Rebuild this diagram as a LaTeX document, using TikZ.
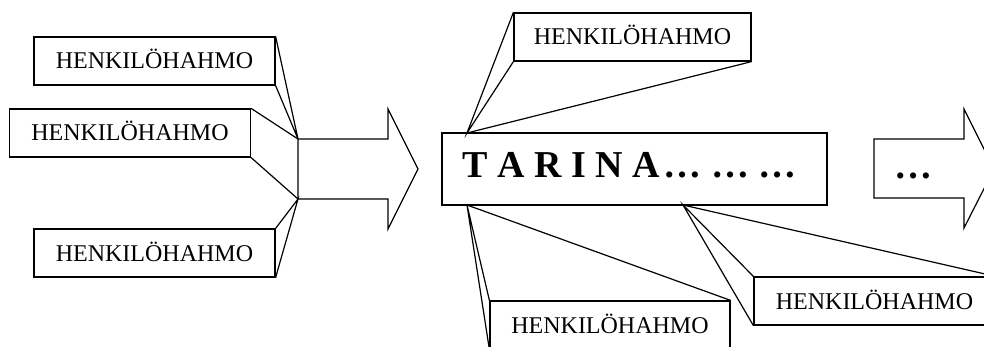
\documentclass[tikz,border=0pt]{standalone}
\usepackage{fontspec}
\setmainfont{Liberation Serif}
\begin{document}
\begin{tikzpicture}[x=1pt,y=-1pt,
  line width=1.2pt, line join=miter,
  hbox/.style={draw, fill=white, inner sep=0pt, minimum width=241pt, minimum height=48pt,
    font=\fontsize{24}{28}\selectfont, text height=16pt, text depth=0pt},
  bigtext/.style={inner sep=0pt, anchor=base west, font=\fontsize{38}{44}\selectfont\bfseries},
  conn/.style={draw}]
\useasboundingbox (0,0) rectangle (984,347);
% left arrow
\draw (298,139) coordinate (a1top) -- (388,139) -- (388,109) -- (418,169) -- (388,229) -- (388,199) -- (298,199) coordinate (a1bot) -- cycle;
% right arrow
\draw (874,139) coordinate (a2top) -- (964,139) -- (964,109) -- (994,169) -- (964,228) -- (964,198) -- (874,198) -- cycle;
\node[bigtext] (dots) at (894,179) {…};
% left boxes
\node[hbox] (b1) at (154.5,61) {HENKILÖHAHMO};
\node[hbox] (b2) at (130,133) {HENKILÖHAHMO};
\node[hbox] (b3) at (154.5,253) {HENKILÖHAHMO};
\draw[conn] (b1.north east) -- (a1top) -- (b1.south east);
\draw[conn] (b2.north east) -- (a1top);
\draw[conn] (b2.south east) -- (a1bot);
\draw[conn] (b3.north east) -- (a1bot) -- (b3.south east);
% story box
\node[draw, inner sep=0pt, minimum width=385pt, minimum height=72pt] (tar) at (634.5,169) {};
\node[bigtext] (tartext) at (462,178) {T A R I N A\hspace{4pt}…\ …\ …};
\coordinate (tt) at (467,133);
\coordinate (tb) at (467,205);
\coordinate (tr) at (683,205);
% top box
\node[hbox, minimum width=237pt] (b4) at (632.5,37) {HENKILÖHAHMO};
\draw[conn] (b4.north west) -- (tt) -- (b4.south west);
\draw[conn] (tt) -- (b4.south east);
% bottom box
\node[hbox, minimum width=240pt] (b5) at (610,325) {HENKILÖHAHMO};
\draw[conn] (b5.north west) -- (tb) -- (b5.south west);
\draw[conn] (tb) -- (b5.north east);
% right bottom box
\node[hbox] (b6) at (874.5,301) {HENKILÖHAHMO};
\draw[conn] (b6.north west) -- (tr) -- (b6.south west);
\draw[conn] (tr) -- (b6.north east);
\end{tikzpicture}
\end{document}
